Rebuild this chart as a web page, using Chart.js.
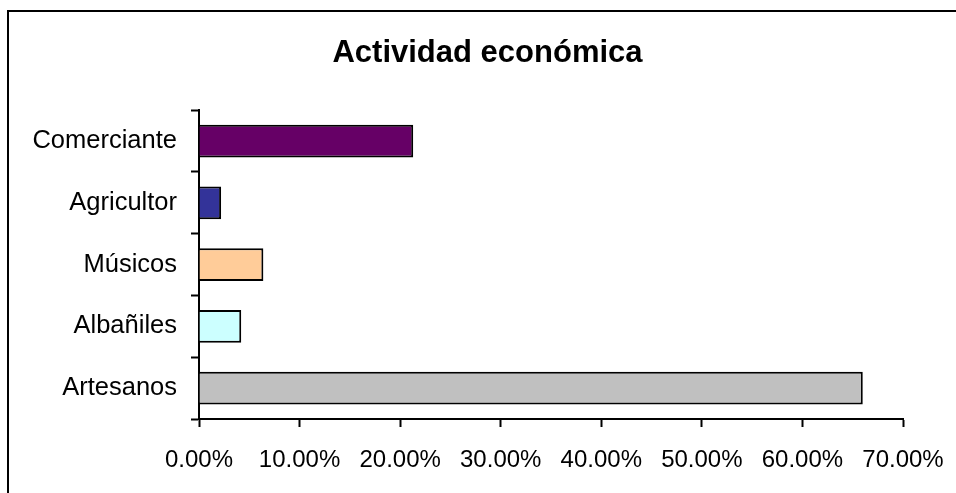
<!DOCTYPE html>
<html lang="es">
<head>
    <meta charset="UTF-8">
    <title>Actividad económica</title>
    <style>
        html, body {
            margin: 0;
            padding: 0;
            background: #fff;
            overflow: hidden;
        }
        .wrap {
            position: relative;
            width: 956px;
            height: 493px;
        }
        .frame {
            position: absolute;
            left: 7px;
            top: 10px;
            width: 1000px;
            height: 600px;
            border: 2px solid #000;
            box-shadow: 1px 1px 0 #999;
        }
        #chart {
            position: absolute;
            left: 0;
            top: 0;
        }
    </style>
</head>
<body>
    <div class="wrap">
        <div class="frame"></div>
        <canvas id="chart" width="956" height="493"></canvas>
    </div>

    <script src="https://cdn.jsdelivr.net/npm/chart.js"></script>
    <script>
        const categories = ['Comerciante', 'Agricultor', 'Músicos', 'Albañiles', 'Artesanos'];
        const shares = [21.3, 2.2, 6.4, 4.2, 66.0];
        const barColors = ['#660066', '#333399', '#FFCC99', '#CCFFFF', '#C0C0C0'];
        const xTicks = [0, 10, 20, 30, 40, 50, 60, 70];

        const fontFamily = '"Liberation Sans", Arial, sans-serif';

        new Chart(document.getElementById('chart'), {
            type: 'bar',
            data: {
                labels: categories,
                datasets: [{
                    data: shares,
                    backgroundColor: barColors,
                    borderColor: '#000',
                    borderWidth: 2,
                    categoryPercentage: 1,
                    barPercentage: 0.53
                }]
            },
            options: {
                indexAxis: 'y',
                responsive: false,
                animation: false,
                layout: {
                    padding: { left: 19, right: 0, top: 0, bottom: 0 }
                },
                plugins: {
                    legend: { display: false },
                    tooltip: { enabled: false },
                    title: {
                        display: true,
                        text: 'Actividad económica',
                        color: '#000',
                        font: { family: fontFamily, size: 31, weight: 'bold', lineHeight: 1.2 },
                        padding: { top: 35, bottom: 38 }
                    }
                },
                scales: {
                    x: {
                        min: xTicks[0],
                        max: xTicks[xTicks.length - 1],
                        afterBuildTicks: (scale) => {
                            scale.ticks = xTicks.map(v => ({ value: v }));
                        },
                        afterFit: (scale) => {
                            scale.height = 74;
                            scale.paddingRight = 53;
                        },
                        grid: {
                            drawOnChartArea: false,
                            drawTicks: true,
                            tickLength: 8,
                            tickWidth: 2,
                            color: '#000'
                        },
                        border: { display: true, color: '#000', width: 2 },
                        ticks: {
                            color: '#000',
                            padding: 19,
                            maxRotation: 0,
                            font: { family: fontFamily, size: 24 },
                            callback: (v) => v.toFixed(2) + '%'
                        }
                    },
                    y: {
                        afterFit: (scale) => {
                            scale.width = 180;
                        },
                        grid: {
                            offset: true,
                            drawOnChartArea: false,
                            drawTicks: true,
                            tickLength: 8,
                            tickWidth: 2,
                            color: '#000'
                        },
                        border: { display: true, color: '#000', width: 2 },
                        ticks: {
                            color: '#000',
                            padding: 14,
                            font: { family: fontFamily, size: 25.5 }
                        }
                    }
                }
            }
        });
    </script>
</body>
</html>
